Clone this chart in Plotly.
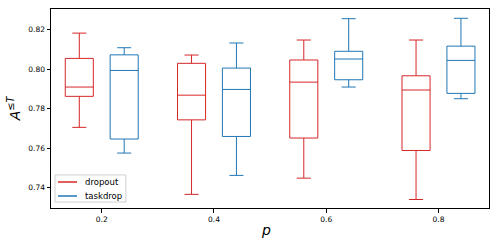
import plotly.graph_objects as go

categories = ["0.2", "0.4", "0.6", "0.8"]
series_names = ["dropout", "taskdrop"]

dropout_upper = [0.8182, 0.8071, 0.8147, 0.8147]
dropout_q3 = [0.8054, 0.8029, 0.8046, 0.7966]
dropout_median = [0.7909, 0.7868, 0.7934, 0.7894]
dropout_q1 = [0.7862, 0.7743, 0.7651, 0.7588]
dropout_lower = [0.7705, 0.7366, 0.7448, 0.7340]

taskdrop_upper = [0.8108, 0.8132, 0.8255, 0.8257]
taskdrop_q3 = [0.8072, 0.8005, 0.8090, 0.8116]
taskdrop_median = [0.7993, 0.7897, 0.8051, 0.8044]
taskdrop_q1 = [0.7646, 0.7659, 0.7946, 0.7877]
taskdrop_lower = [0.7575, 0.7462, 0.7909, 0.7850]

RED = "#d62728"
BLUE = "#1f77b4"
colors = [RED, BLUE]

fig = go.Figure()
for name, color, up, q3, med, q1, lo in [
    ("dropout", RED, dropout_upper, dropout_q3, dropout_median, dropout_q1, dropout_lower),
    ("taskdrop", BLUE, taskdrop_upper, taskdrop_q3, taskdrop_median, taskdrop_q1, taskdrop_lower),
]:
    fig.add_trace(go.Box(
        x=categories, q1=q1, median=med, q3=q3, lowerfence=lo, upperfence=up,
        name=name, showlegend=False, boxpoints=False,
        line=dict(color=color, width=1), fillcolor="rgba(0,0,0,0)",
        whiskerwidth=0.5, hoverinfo="skip",
    ))

# legend drawn as a framed box (paper coordinates)
shapes = [dict(type="rect", xref="paper", yref="paper", x0=0.0091, x1=0.171,
               y0=0.030, y1=0.166, line=dict(color="#d0d0d0", width=1),
               fillcolor="rgba(255,255,255,0.85)", layer="above")]
annotations = []
leg_y = [0.1307, 0.0603]
for name, color, yy in zip(series_names, colors, leg_y):
    shapes.append(dict(type="line", xref="paper", yref="paper", x0=0.016, x1=0.0594,
                       y0=yy, y1=yy, line=dict(color=color, width=1.5), layer="above"))
    annotations.append(dict(text=name, xref="paper", yref="paper", x=0.0731, y=yy,
                            xanchor="left", yanchor="middle", showarrow=False,
                            font=dict(size=8.5)))

annotations += [
    dict(text="<i>p</i>", xref="paper", yref="paper", x=0.49, y=-0.11,
         xanchor="center", yanchor="middle", showarrow=False, font=dict(size=14)),
    dict(text="<i>A</i><sup>≤<i>T</i></sup>", xref="paper", yref="paper",
         x=-0.085, y=0.5, xanchor="center", yanchor="middle", showarrow=False,
         textangle=-90, font=dict(size=14)),
]

fig.update_layout(
    width=498, height=249,
    margin=dict(l=51, r=9, t=9, b=41, autoexpand=False),
    plot_bgcolor="white", paper_bgcolor="white",
    boxmode="group", boxgap=0.2, boxgroupgap=0.375,
    font=dict(family="DejaVu Sans", size=8, color="black"),
    showlegend=False,
    xaxis=dict(
        type="category", range=[-0.452, 3.45], automargin=False,
        showline=True, linecolor="black", linewidth=1, mirror=True,
        ticks="outside", ticklen=3.5, tickcolor="black", showgrid=False,
        tickfont=dict(size=7.5),
    ),
    yaxis=dict(
        range=[0.7297, 0.8304], tickvals=[0.74, 0.76, 0.78, 0.80, 0.82],
        tickformat=".2f", automargin=False,
        showline=True, linecolor="black", linewidth=1, mirror=True,
        ticks="outside", ticklen=3.5, tickcolor="black", showgrid=False,
        zeroline=False, tickfont=dict(size=7.5),
    ),
    shapes=shapes,
    annotations=annotations,
)

fig.write_html("out.html", config={"displayModeBar": False},
               post_script="document.body.style.margin='0';document.body.style.padding='0';")
